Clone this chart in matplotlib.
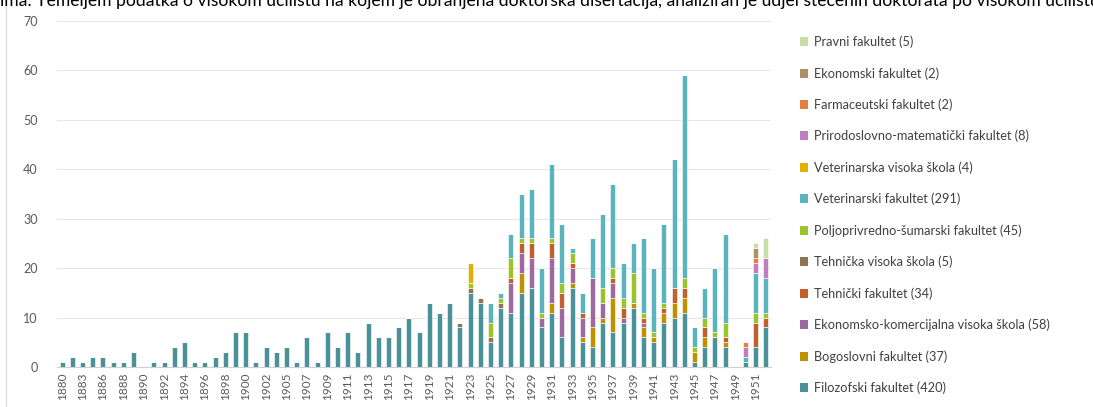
import matplotlib
matplotlib.use("Agg")
import matplotlib.pyplot as plt
from matplotlib.patches import Patch
from matplotlib.lines import Line2D
import numpy as np

plt.rcParams['font.family'] = ['Lato', 'DejaVu Sans']

years = [1880, 1882, 1883, 1885, 1886, 1887, 1888, 1889, 1890, 1891, 1892, 1893, 1894,
         1895, 1896, 1897, 1898, 1899, 1900, 1901, 1902, 1904] + list(range(1905, 1953))

# values per year (aligned with years)
filozofski = [1, 2, 1, 2, 2, 1, 1, 3, 0, 1, 1, 4, 5,
              1, 1, 2, 3, 7, 7, 1, 4, 3,
              4, 1, 6, 1, 7, 4, 7, 3, 9, 6, 6,            # 1905-1915
              8, 10, 7, 13, 11, 13, 8, 15, 13,            # 1916-1924
              5, 12, 11, 15, 16, 8, 11, 6, 16, 5,         # 1925-1934
              4, 9, 7, 9, 12, 6, 5, 9, 10, 11,            # 1935-1944
              1, 4, 6, 4, 0, 1, 4, 8]                     # 1945-1952

def later(d):
    out = [0] * len(years)
    for y, v in d.items():
        out[years.index(y)] = v
    return out

bogoslovni = later({1928: 4, 1931: 2, 1933: 1, 1934: 1, 1935: 4, 1936: 1, 1937: 7, 1939: 1,
                    1940: 2, 1941: 1, 1942: 2, 1943: 3, 1944: 3, 1945: 2, 1946: 2, 1948: 1})
ekonomsko_kom = later({1927: 6, 1928: 4, 1929: 6, 1930: 2, 1931: 9, 1932: 6, 1933: 3, 1934: 4,
                       1935: 10, 1936: 3, 1937: 3, 1938: 1, 1940: 1})
tehnicki = later({1927: 1, 1928: 2, 1929: 3, 1931: 3, 1932: 3, 1933: 1, 1934: 1, 1937: 1, 1938: 2,
                  1940: 1, 1942: 1, 1943: 3, 1944: 2, 1946: 2, 1948: 1, 1951: 5, 1952: 2})
tehnicka_vs = later({1922: 1, 1923: 1, 1924: 1, 1925: 1, 1926: 1})
poljoprivredno = later({1923: 1, 1925: 3, 1926: 1, 1927: 4, 1928: 1, 1929: 1, 1930: 1, 1931: 1,
                        1932: 2, 1933: 2, 1936: 3, 1937: 2, 1938: 2, 1939: 6, 1940: 1, 1941: 1,
                        1942: 1, 1944: 2, 1945: 1, 1946: 2, 1947: 1, 1948: 3, 1951: 2, 1952: 1})
veterinarski = later({1925: 4, 1926: 1, 1927: 5, 1928: 9, 1929: 10, 1930: 9, 1931: 15, 1932: 12,
                      1933: 1, 1934: 4, 1935: 8, 1936: 15, 1937: 17, 1938: 7, 1939: 6, 1940: 15,
                      1941: 13, 1942: 16, 1943: 26, 1944: 41, 1945: 4, 1946: 6, 1947: 13,
                      1948: 18, 1950: 1, 1951: 8, 1952: 7})
veterinarska_vs = later({1923: 4})
pmf = later({1950: 2, 1951: 2, 1952: 4})
farmaceutski = later({1950: 1, 1951: 1})
ekonomski = later({1951: 2})
pravni = later({1951: 1, 1952: 4})

series = [
    ("Filozofski fakultet (420)", filozofski, "#4A9199"),
    ("Bogoslovni fakultet (37)", bogoslovni, "#BF9000"),
    ("Ekonomsko-komercijalna visoka škola (58)", ekonomsko_kom, "#9C6A9F"),
    ("Tehnički fakultet (34)", tehnicki, "#C0602E"),
    ("Tehnička visoka škola (5)", tehnicka_vs, "#8C7651"),
    ("Poljoprivredno-šumarski fakultet (45)", poljoprivredno, "#9DC32A"),
    ("Veterinarski fakultet (291)", veterinarski, "#5BB3BD"),
    ("Veterinarska visoka škola (4)", veterinarska_vs, "#E1B000"),
    ("Prirodoslovno-matematički fakultet (8)", pmf, "#BF7EC0"),
    ("Farmaceutski fakultet (2)", farmaceutski, "#E4803E"),
    ("Ekonomski fakultet (2)", ekonomski, "#AD9065"),
    ("Pravni fakultet (5)", pravni, "#C8DEA5"),
]

W, H = 1093, 407
fig = plt.figure(figsize=(W / 100, H / 100), dpi=100)
ax = fig.add_axes([57 / W, (H - 367) / H, (771 - 57) / W, (367 - 21) / H])

x = np.arange(len(years))
bottom = np.zeros(len(years))
handles = []
for name, vals, col in series:
    v = np.array(vals, dtype=float)
    ax.bar(x, v, width=0.5, bottom=bottom, color=col, edgecolor='white', linewidth=0.4, zorder=3)
    bottom += v
    handles.append(Patch(facecolor=col, edgecolor='none', label=name))

ax.set_xlim(-0.5, len(years) - 0.5)
ax.set_ylim(0, 70)
ax.set_yticks(range(0, 71, 10))
ax.yaxis.grid(True, color='#E6E6E6', linewidth=0.8, zorder=0)
ax.set_axisbelow(True)
for s in ['left', 'right', 'top']:
    ax.spines[s].set_visible(False)
ax.spines['bottom'].set_color('#D0D0D0')
ax.spines['bottom'].set_linewidth(0.8)
ax.tick_params(axis='y', length=0, labelsize=9, labelcolor='#595959', pad=14)
ax.set_xticks(x[::2])
ax.set_xticklabels([str(y) for y in years[::2]], rotation=90)
ax.tick_params(axis='x', length=0, labelsize=8.5, labelcolor='#595959', pad=4)

leg = fig.legend(handles=handles[::-1], loc='upper left', bbox_to_anchor=(788 / W, 1 - 24 / H),
                 frameon=False, fontsize=9.2, labelspacing=1.48, handlelength=0.7,
                 handleheight=0.7, handletextpad=0.45, labelcolor='#404040')

# chart frame left border
fig.add_artist(Line2D([6 / W, 6 / W], [0, 1 - 7 / H], transform=fig.transFigure,
                      color='#D9D9D9', linewidth=0.8))

fig.text(0.0, 1.0 - 1 / H,
         "ima: Temeljem podatka o visokom učilištu na kojem je obranjena doktorska disertacija, "
         "analiziran je udjel stečenih doktorata po visokom učilištu",
         ha='left', va='center', fontsize=12.6, color='#000000')

fig.savefig("out.png", dpi=100)
